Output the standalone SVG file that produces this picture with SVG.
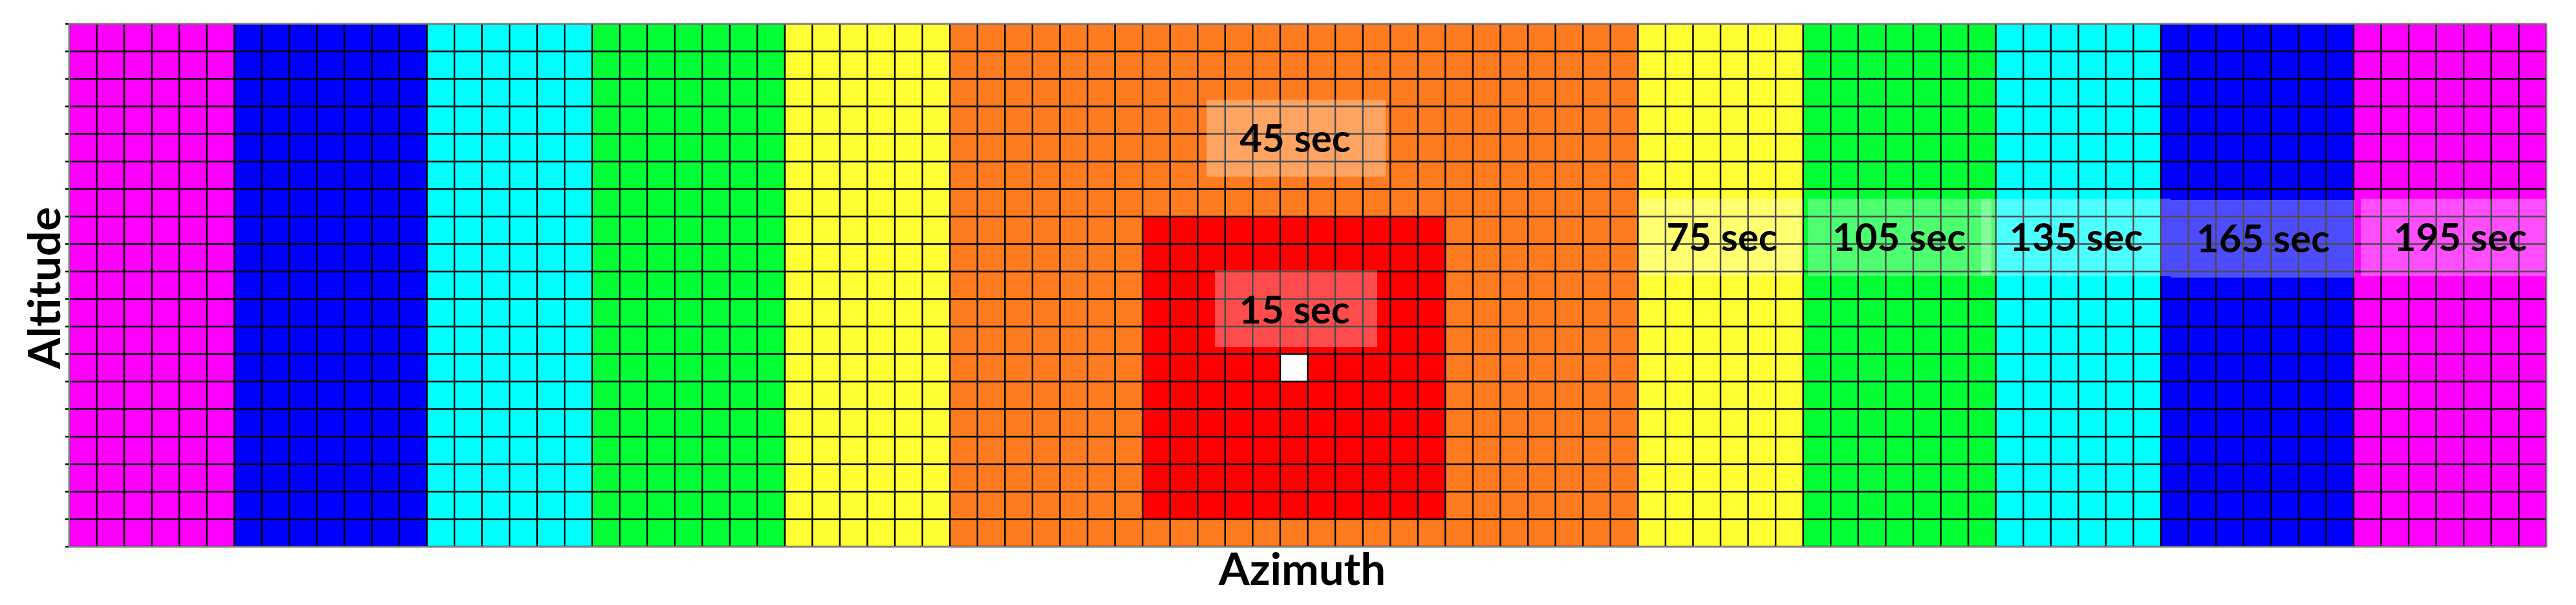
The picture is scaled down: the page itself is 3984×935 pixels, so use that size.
<svg xmlns="http://www.w3.org/2000/svg" width="3984" height="935" viewBox="0 0 3984 935">
<style>
.lbl{font-family:Lato,"Liberation Sans",sans-serif;font-weight:700;font-size:60px;fill:#000;text-anchor:middle}
.axis{font-family:Lato,"Liberation Sans",sans-serif;font-weight:700;font-size:69px;fill:#000;text-anchor:middle}
.box{fill:#fff;fill-opacity:0.3}
.grid{fill:none;stroke:#000;stroke-width:2.5}
</style>
<rect width="3984" height="935" fill="#fff"/>
<g id="bands">
<rect x="107" y="37" width="255.4" height="808" fill="#FF00FF"/>
<rect x="362.4" y="37" width="297.97" height="808" fill="#0000FF"/>
<rect x="660.37" y="37" width="255.4" height="808" fill="#00FFFF"/>
<rect x="915.77" y="37" width="297.96" height="808" fill="#00FF33"/>
<rect x="1213.73" y="37" width="255.4" height="808" fill="#FFFF33"/>
<rect x="1469.13" y="37" width="1064.17" height="808" fill="#FF7B1F"/>
<rect x="2533.3" y="37" width="255.4" height="808" fill="#FFFF33"/>
<rect x="2788.7" y="37" width="297.97" height="808" fill="#00FF33"/>
<rect x="3086.67" y="37" width="255.4" height="808" fill="#00FFFF"/>
<rect x="3342.07" y="37" width="297.96" height="808" fill="#0000FF"/>
<rect x="3640.03" y="37" width="297.97" height="808" fill="#FF00FF"/>
</g>
<g id="red-zone">
<rect x="1767.1" y="334.68" width="468.23" height="467.79" fill="#FF0000"/>
<rect x="1979.93" y="547.32" width="42.57" height="42.52" fill="#FFFFFF"/>
</g>
<g id="grid">
<path class="grid" d="M107,37V845M149.57,37V845M192.13,37V845M234.7,37V845M277.27,37V845M319.83,37V845M362.4,37V845M404.97,37V845M447.53,37V845M490.1,37V845M532.67,37V845M575.23,37V845M617.8,37V845M660.37,37V845M702.93,37V845M745.5,37V845M788.07,37V845M830.63,37V845M873.2,37V845M915.77,37V845M958.33,37V845M1000.9,37V845M1043.47,37V845M1086.03,37V845M1128.6,37V845M1171.17,37V845M1213.73,37V845M1256.3,37V845M1298.87,37V845M1341.43,37V845M1384,37V845M1426.57,37V845M1469.13,37V845M1511.7,37V845M1554.27,37V845M1596.83,37V845M1639.4,37V845M1681.97,37V845M1724.53,37V845M1767.1,37V845M1809.67,37V845M1852.23,37V845M1894.8,37V845M1937.37,37V845M1979.93,37V845M2022.5,37V845M2065.07,37V845M2107.63,37V845M2150.2,37V845M2192.77,37V845M2235.33,37V845M2277.9,37V845M2320.47,37V845M2363.03,37V845M2405.6,37V845M2448.17,37V845M2490.73,37V845M2533.3,37V845M2575.87,37V845M2618.43,37V845M2661,37V845M2703.57,37V845M2746.13,37V845M2788.7,37V845M2831.27,37V845M2873.83,37V845M2916.4,37V845M2958.97,37V845M3001.53,37V845M3044.1,37V845M3086.67,37V845M3129.23,37V845M3171.8,37V845M3214.37,37V845M3256.93,37V845M3299.5,37V845M3342.07,37V845M3384.63,37V845M3427.2,37V845M3469.77,37V845M3512.33,37V845M3554.9,37V845M3597.47,37V845M3640.03,37V845M3682.6,37V845M3725.17,37V845M3767.73,37V845M3810.3,37V845M3852.87,37V845M3895.43,37V845M3938,37V845"/>
<path class="grid" d="M101,37H3938M101,79.53H3938M101,122.05H3938M101,164.58H3938M101,207.11H3938M101,249.63H3938M101,292.16H3938M101,334.68H3938M101,377.21H3938M101,419.74H3938M101,462.26H3938M101,504.79H3938M101,547.32H3938M101,589.84H3938M101,632.37H3938M101,674.89H3938M101,717.42H3938M101,759.95H3938M101,802.47H3938M101,845H3938"/>
<rect x="107" y="37" width="3831" height="808" fill="none" stroke="#808080" stroke-width="2"/>
</g>
<g id="label-45">
<rect class="box" x="1866" y="154" width="277" height="119"/>
<text class="lbl" x="2003" y="235">45 sec</text>
</g>
<g id="label-15">
<rect class="box" x="1879" y="418" width="251" height="118"/>
<text class="lbl" x="2002" y="500">15 sec</text>
</g>
<g id="label-75">
<rect class="box" x="2534" y="307" width="254" height="120"/>
<text class="lbl" x="2663" y="388">75 sec</text>
</g>
<g id="label-105">
<rect class="box" x="2796" y="307" width="284" height="120"/>
<text class="lbl" x="2937" y="388">105 sec</text>
</g>
<g id="label-135">
<rect class="box" x="3064" y="307" width="293" height="120"/>
<text class="lbl" x="3211" y="388">135 sec</text>
</g>
<g id="label-165">
<rect class="box" x="3357" y="309" width="285" height="120"/>
<text class="lbl" x="3500" y="390">165 sec</text>
</g>
<g id="label-195">
<rect class="box" x="3651" y="307" width="286" height="120"/>
<text class="lbl" x="3805" y="388">195 sec</text>
</g>
<g id="axes">
<text class="axis" x="2014" y="904">Azimuth</text>
<text class="axis" transform="translate(93,445) rotate(-90)">Altitude</text>
</g>
</svg>
